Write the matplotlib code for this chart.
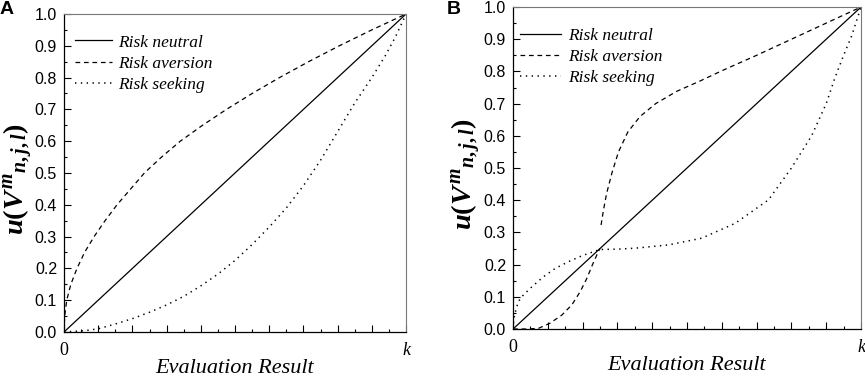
import numpy as np
import matplotlib
matplotlib.use("Agg")
import matplotlib.pyplot as plt
from matplotlib.ticker import MultipleLocator

# ── Data ──────────────────────────────────────────────────────────────────────

x_neutral = [0.0, 1.0]
y_neutral = [0.0, 1.0]

# Panel A
xa_aversion = [0, 0.002, 0.008, 0.02, 0.038, 0.06, 0.088, 0.12, 0.155, 0.195, 0.235,
               0.285, 0.34, 0.405, 0.475, 0.55, 0.63, 0.715, 0.805, 0.9, 1.0]
ya_aversion = [0, 0.05, 0.1, 0.15, 0.2, 0.25, 0.3, 0.35, 0.4, 0.45, 0.5,
               0.55, 0.6, 0.65, 0.7, 0.75, 0.8, 0.85, 0.9, 0.95, 1.0]
xa_seeking = [0, 0.06, 0.1, 0.15, 0.2, 0.25, 0.3, 0.35, 0.4, 0.45, 0.5, 0.55,
              0.6, 0.65, 0.7, 0.75, 0.8, 0.85, 0.9, 0.94, 0.97, 1.0]
ya_seeking = [0, 0.004, 0.01, 0.025, 0.042, 0.062, 0.085, 0.112, 0.145, 0.182,
              0.225, 0.275, 0.33, 0.39, 0.46, 0.54, 0.63, 0.72, 0.8, 0.87, 0.93, 1.0]

# Panel B (aversion has a jump just after x = 0.25)
xb_aversion_lo = [0, 0.04, 0.073, 0.106, 0.14, 0.169, 0.193, 0.212, 0.228, 0.245, 0.25]
yb_aversion_lo = [0, 0.0, 0.002, 0.018, 0.043, 0.075, 0.116, 0.157, 0.199, 0.24, 0.25]
xb_aversion_hi = [0.253, 0.26, 0.269, 0.284, 0.303, 0.33, 0.365, 0.41, 0.47,
                  0.537, 0.604, 0.7, 0.8, 0.9, 1.0]
yb_aversion_hi = [0.323, 0.37, 0.421, 0.484, 0.55, 0.612, 0.66, 0.7, 0.738,
                  0.77, 0.804, 0.85, 0.9, 0.95, 1.0]
xb_seeking = [0, 0.002, 0.006, 0.015, 0.03, 0.054, 0.087, 0.121, 0.159, 0.197,
              0.236, 0.25, 0.3, 0.351, 0.446, 0.542, 0.638, 0.734, 0.8, 0.858,
              0.9, 0.925, 0.95, 0.973, 1.0]
yb_seeking = [0, 0.03, 0.05, 0.085, 0.106, 0.131, 0.162, 0.188, 0.209, 0.227,
              0.242, 0.247, 0.248, 0.251, 0.261, 0.282, 0.328, 0.401, 0.5, 0.6,
              0.7, 0.78, 0.85, 0.91, 1.0]

labels = ["Risk neutral", "Risk aversion", "Risk seeking"]
x_ticks = np.round(np.arange(0, 1.01, 0.1), 2)
x_ticklabels = ["0"] + [""] * 9 + ["k"]
y_ticks = np.round(np.arange(0, 1.01, 0.1), 2)

# ── Style ─────────────────────────────────────────────────────────────────────

plt.rcParams["lines.scale_dashes"] = False
plt.rcParams["mathtext.fontset"] = "custom"
plt.rcParams["mathtext.it"] = "Liberation Serif:italic:bold"
plt.rcParams["mathtext.rm"] = "Liberation Serif:bold"
plt.rcParams["mathtext.bf"] = "Liberation Serif:bold"

SERIF = "Liberation Serif"
SANS = "Liberation Sans"
DASH = (0, (3.4, 2.7))
DOT = (0, (1.0, 3.2))
LW = 0.9


def _style_axes(ax, label_x, leg_x, handle_len):
    ax.set_xlim(0, 1)
    ax.set_ylim(0, 1)
    ax.set_xticks(x_ticks)
    ax.set_xticklabels(x_ticklabels, fontfamily=SERIF, fontsize=13)
    ax.get_xticklabels()[-1].set_fontstyle("italic")
    ax.set_yticks(y_ticks)
    ax.set_yticklabels([f"{v:.1f}" for v in y_ticks], fontfamily=SANS, fontsize=11.5)
    ax.xaxis.set_minor_locator(MultipleLocator(0.05))
    ax.yaxis.set_minor_locator(MultipleLocator(0.05))
    ax.tick_params(which="major", direction="in", length=5, width=0.8, pad=5)
    ax.tick_params(which="minor", direction="in", length=2.5, width=0.8)
    ax.tick_params(axis="x", pad=7)
    for side in ("top", "right"):
        ax.spines[side].set_color("#777777")
        ax.spines[side].set_linewidth(0.8)
    for side in ("left", "bottom"):
        ax.spines[side].set_linewidth(0.9)
    ax.set_xlabel("Evaluation Result", fontfamily=SERIF, fontstyle="italic",
                  fontsize=16, labelpad=0)
    ax.set_ylabel(r"$u(V^{m}{}_{n,j,l})$", fontsize=20.5)
    ax.yaxis.set_label_coords(label_x, 0.48)
    ax.legend(loc="upper left", bbox_to_anchor=(leg_x, 0.985), frameon=False,
              handlelength=handle_len, handletextpad=0.4, labelspacing=0.3,
              prop={"family": SERIF, "style": "italic", "size": 12.5})


fig = plt.figure(figsize=(8.65, 3.77), dpi=100)

# ── Panel A ───────────────────────────────────────────────────────────────────
ax_a = fig.add_axes([0.074, 0.1194, 0.3954, 0.8435])
ax_a.plot(x_neutral, y_neutral, color="black", lw=LW, label=labels[0])
ax_a.plot(xa_aversion, ya_aversion, color="black", lw=LW, ls=DASH, label=labels[1])
ax_a.plot(xa_seeking, ya_seeking, color="black", lw=1.1, ls=DOT, label=labels[2])
_style_axes(ax_a, label_x=-0.086, leg_x=-0.013, handle_len=2.1)

# ── Panel B ───────────────────────────────────────────────────────────────────
ax_b = fig.add_axes([0.5931, 0.1273, 0.4023, 0.8541])
ax_b.plot(x_neutral, y_neutral, color="black", lw=LW, label=labels[0])
ax_b.plot(xb_aversion_lo, yb_aversion_lo, color="black", lw=LW, ls=DASH, label=labels[1])
ax_b.plot(xb_aversion_hi, yb_aversion_hi, color="black", lw=LW, ls=DASH)
ax_b.plot(xb_seeking, yb_seeking, color="black", lw=1.1, ls=DOT, label=labels[2])
_style_axes(ax_b, label_x=-0.085, leg_x=-0.025, handle_len=2.35)

fig.text(0.0, 0.998, "A", fontfamily=SANS, fontweight="bold", fontsize=14, va="top")
fig.text(0.517, 0.998, "B", fontfamily=SANS, fontweight="bold", fontsize=14, va="top")

fig.savefig("out.png", dpi=100)
